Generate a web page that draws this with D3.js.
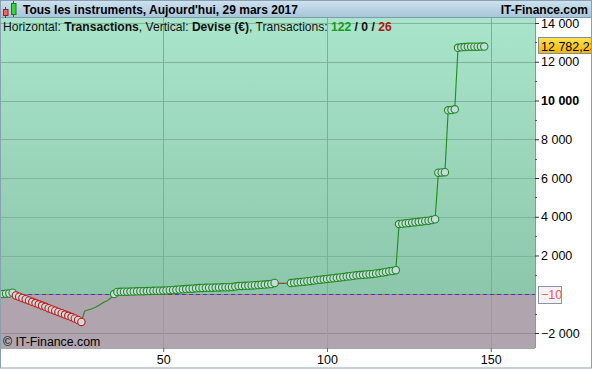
<!DOCTYPE html>
<html><head><meta charset="utf-8">
<script src="https://cdn.jsdelivr.net/npm/d3@7"></script>
<style>
body{margin:0;background:#fff;}
svg{display:block;font-family:"Liberation Sans",Arial,sans-serif;}
</style></head><body>
<div id="chart"></div>
<script>
// cumulative result (EUR) after each transaction
const equity = [
  10, 30, 40, 80,
  -60, -125, -190, -255, -320, -390, -455, -520, -585, -650, -720,
  -785, -850, -915, -980, -1050, -1115, -1180, -1250, -1330, -1430,
  -865, -810, -760, -700, -610, -505, -400, -320, -195,
  10, 115, 125, 130, 135, 140, 145, 150, 155, 160, 165, 170, 175, 180, 185, 190,
  200, 210, 220, 230, 245, 255, 265, 280, 290, 305, 320, 325, 330, 335, 340,
  345, 350, 355, 360, 365, 375, 395, 420, 430, 435, 445, 455, 465, 475, 490,
  500, 510, 530, 580,
  575, 568, 562, 565,
  575, 600, 615, 630, 650, 670, 690, 710, 730, 750, 770, 790, 810, 830, 850,
  870, 890, 910, 930, 955, 975, 990, 1005, 1020, 1035, 1050, 1070, 1095, 1120,
  1150, 1185, 1200, 1245,
  3620, 3640, 3660, 3680, 3700, 3720, 3740, 3760, 3780, 3800, 3830, 3870,
  6270, 6290, 6300,
  9495, 9510, 9545,
  12720, 12745, 12760, 12770, 12775, 12778, 12780, 12781, 12782.23
];
// transaction ranges drawn without a marker
const noMarkerRanges = [[26, 34], [85, 88]];
const yTicks = [14000, 12000, 10000, 8000, 6000, 4000, 2000, -2000];
const yMinorTicks = [13000, 11000, 9000, 7000, 5000, 3000, 1000, -1000];
const xTicks = [50, 100, 150];
const tradeCounts = [122, 0, 26];
const lastValue = 12782.23;
const thresholdValue = -10;

const W = 592, H = 369;
const plot = {left: 0, top: 18, right: 535, bottom: 348};

const svg = d3.select('#chart').append('svg')
  .attr('width', W).attr('height', H);

const x = d3.scaleLinear().domain([0, 163.5]).range([-0.5, plot.right]);
const y = d3.scaleLinear().domain([-2000, 14000]).range([333, 23]);

const fr = d3.formatLocale({decimal: ',', thousands: ' ', grouping: [3], currency: ['', '€']});
const fmtInt = fr.format(',d');
const fmtDec = fr.format(',.2f');

const defs = svg.append('defs');
const gTop = defs.append('linearGradient').attr('id', 'gPos')
  .attr('x1', 0).attr('x2', 0).attr('y1', 0).attr('y2', 1);
gTop.append('stop').attr('offset', '0%').attr('stop-color', '#a9e5cb');
gTop.append('stop').attr('offset', '100%').attr('stop-color', '#8cc7ab');
const gBar = defs.append('linearGradient').attr('id', 'gBar')
  .attr('x1', 0).attr('x2', 0).attr('y1', 0).attr('y2', 1);
gBar.append('stop').attr('offset', '0%').attr('stop-color', '#cfe2ef');
gBar.append('stop').attr('offset', '100%').attr('stop-color', '#a6c4d9');
const gGold = defs.append('linearGradient').attr('id', 'gGold')
  .attr('x1', 0).attr('x2', 0).attr('y1', 0).attr('y2', 1);
gGold.append('stop').attr('offset', '0%').attr('stop-color', '#ffe45a');
gGold.append('stop').attr('offset', '100%').attr('stop-color', '#f2b400');
defs.append('clipPath').attr('id', 'clipPlot').append('rect')
  .attr('x', plot.left).attr('y', plot.top)
  .attr('width', plot.right - plot.left).attr('height', plot.bottom - plot.top);

// white page
svg.append('rect').attr('width', W).attr('height', H).attr('fill', '#fff');

// plot background, green above the threshold, mauve below
const yThr = y(thresholdValue);
svg.append('rect')
  .attr('x', plot.left).attr('y', plot.top)
  .attr('width', plot.right - plot.left).attr('height', yThr - plot.top)
  .attr('fill', 'url(#gPos)');
svg.append('rect')
  .attr('x', plot.left).attr('y', yThr)
  .attr('width', plot.right - plot.left).attr('height', plot.bottom - yThr)
  .attr('fill', '#b0a5ae');

// grid
const grid = svg.append('g').attr('clip-path', 'url(#clipPlot)');
grid.selectAll('line.h').data(yTicks).join('line')
  .attr('x1', plot.left).attr('x2', plot.right)
  .attr('y1', d => Math.round(y(d)) + 0.5).attr('y2', d => Math.round(y(d)) + 0.5)
  .attr('stroke', d => d < 0 ? '#978c95' : '#80b29c').attr('stroke-width', 1);
grid.selectAll('line.v').data(xTicks).join('line')
  .attr('x1', d => Math.round(x(d)) + 0.5).attr('x2', d => Math.round(x(d)) + 0.5)
  .attr('y1', plot.top).attr('y2', plot.bottom)
  .attr('stroke', '#88a89a').attr('stroke-width', 1);
grid.append('line')
  .attr('x1', plot.left).attr('x2', plot.right)
  .attr('y1', Math.round(yThr) + 0.5).attr('y2', Math.round(yThr) + 0.5)
  .attr('stroke', '#d86a4a').attr('stroke-width', 1);
grid.append('line')
  .attr('x1', plot.left).attr('x2', plot.right)
  .attr('y1', Math.round(yThr) + 0.5).attr('y2', Math.round(yThr) + 0.5)
  .attr('stroke', '#2244dd').attr('stroke-width', 1).attr('stroke-dasharray', '4,3');

// equity curve
const pts = equity.map((v, i) => ({n: i + 1, v, up: v >= (i ? equity[i - 1] : 0)}));
const hidden = n => noMarkerRanges.some(r => n >= r[0] && n <= r[1]);
const curve = svg.append('g').attr('clip-path', 'url(#clipPlot)');
curve.selectAll('line').data(pts.slice(1)).join('line')
  .attr('x1', d => x(d.n - 1)).attr('y1', d => y(equity[d.n - 2]))
  .attr('x2', d => x(d.n)).attr('y2', d => y(d.v))
  .attr('stroke', d => d.up ? '#1e8c1e' : '#cc1010').attr('stroke-width', 1.1);
curve.selectAll('circle').data(pts.filter(d => !hidden(d.n))).join('circle')
  .attr('cx', d => x(d.n)).attr('cy', d => y(d.v)).attr('r', 3.7)
  .attr('fill', '#c8dbde')
  .attr('stroke', d => d.up ? '#1e8a1e' : '#c81818').attr('stroke-width', 1.1);

// plot border
svg.append('line').attr('x1', plot.right + 0.5).attr('x2', plot.right + 0.5)
  .attr('y1', plot.top).attr('y2', plot.bottom).attr('stroke', '#7f9aa8');
svg.append('line').attr('x1', 0).attr('x2', plot.right)
  .attr('y1', plot.bottom + 0.5).attr('y2', plot.bottom + 0.5).attr('stroke', '#a0a8ae');

// right axis
const yAxis = svg.append('g').attr('transform', `translate(${plot.right},0)`)
  .call(d3.axisRight(y).tickValues(yTicks).tickSize(4).tickPadding(2).tickFormat(fmtInt));
yAxis.select('.domain').remove();
yAxis.selectAll('.tick line').attr('stroke', '#333');
yAxis.selectAll('.tick text')
  .attr('font-size', 12.5).attr('fill', '#000').attr('font-family', null)
  .attr('font-weight', d => d === 10000 ? 'bold' : 'normal');
svg.append('g').selectAll('line').data(yMinorTicks).join('line')
  .attr('x1', plot.right).attr('x2', plot.right + 2)
  .attr('y1', d => Math.round(y(d)) + 0.5).attr('y2', d => Math.round(y(d)) + 0.5)
  .attr('stroke', '#555');

// bottom axis
const xAxis = svg.append('g').attr('transform', `translate(0,${plot.bottom})`)
  .call(d3.axisBottom(x).tickValues(xTicks).tickSize(4).tickPadding(3));
xAxis.select('.domain').remove();
xAxis.selectAll('.tick line').attr('stroke', '#667');
xAxis.selectAll('.tick text').attr('font-size', 12.5).attr('fill', '#000').attr('font-family', null);

// threshold label
svg.append('rect').attr('x', 538.5).attr('y', 286.5).attr('width', 23).attr('height', 17)
  .attr('fill', '#f6f2f3').attr('stroke', '#8796a3');
svg.append('text').attr('x', 541).attr('y', yThr + 4.5)
  .attr('font-size', 12.5).attr('fill', '#e05a5a').text(fr.format('d')(thresholdValue));

// last value label (clipped by the right edge, as in the original)
svg.append('rect').attr('x', 538.5).attr('y', 37.5).attr('width', 60).attr('height', 16)
  .attr('fill', 'url(#gGold)').attr('stroke', '#7e8e9c');
svg.append('text').attr('x', 541).attr('y', y(lastValue) + 4)
  .attr('font-size', 12.5).attr('fill', '#000').text(fmtDec(lastValue));

// title bar
svg.append('rect').attr('x', 0).attr('y', 0).attr('width', W).attr('height', 18)
  .attr('fill', 'url(#gBar)');
svg.append('line').attr('x1', 0).attr('x2', W).attr('y1', 17.5).attr('y2', 17.5)
  .attr('stroke', '#7d9ab0');
// candle icon
const icon = svg.append('g');
icon.append('line').attr('x1', 5.5).attr('x2', 5.5).attr('y1', 7).attr('y2', 18).attr('stroke', '#a02020');
icon.append('rect').attr('x', 3.5).attr('y', 9.5).attr('width', 4.5).attr('height', 6)
  .attr('fill', '#f06464').attr('stroke', '#a02020');
icon.append('line').attr('x1', 13.5).attr('x2', 13.5).attr('y1', 1).attr('y2', 17).attr('stroke', '#108010');
icon.append('rect').attr('x', 11.5).attr('y', 3.5).attr('width', 4.5).attr('height', 11)
  .attr('fill', '#3fd23f').attr('stroke', '#108010');
svg.append('text').attr('x', 23).attr('y', 13.5)
  .attr('font-size', 12).attr('font-weight', 'bold').attr('fill', '#000')
  .text("Tous les instruments, Aujourd'hui, 29 mars 2017");
svg.append('text').attr('x', 588).attr('y', 13.5).attr('text-anchor', 'end')
  .attr('font-size', 12).attr('font-weight', 'bold').attr('fill', '#000')
  .text('IT-Finance.com');

// subtitle
const sub = svg.append('text').attr('x', 3).attr('y', 30.5).attr('font-size', 12.1).attr('fill', '#111');
sub.append('tspan').text('Horizontal: ');
sub.append('tspan').attr('font-weight', 'bold').text('Transactions');
sub.append('tspan').text(', Vertical: ');
sub.append('tspan').attr('font-weight', 'bold').text('Devise (€)');
sub.append('tspan').text(', Transactions: ');
sub.append('tspan').attr('font-weight', 'bold').attr('fill', '#1a9a1a').text(tradeCounts[0]);
sub.append('tspan').attr('font-weight', 'bold').text(' / ');
sub.append('tspan').attr('font-weight', 'bold').text(tradeCounts[1]);
sub.append('tspan').attr('font-weight', 'bold').text(' / ');
sub.append('tspan').attr('font-weight', 'bold').attr('fill', '#b01414').text(tradeCounts[2]);

// copyright
svg.append('text').attr('x', 3).attr('y', 345.5).attr('font-size', 12.3).attr('fill', '#000')
  .text('© IT-Finance.com');

// outer frame
svg.append('rect').attr('x', 0.5).attr('y', 0.5).attr('width', W - 1).attr('height', H - 1.5)
  .attr('fill', 'none').attr('stroke', '#8aa0b2');
</script>
</body></html>
